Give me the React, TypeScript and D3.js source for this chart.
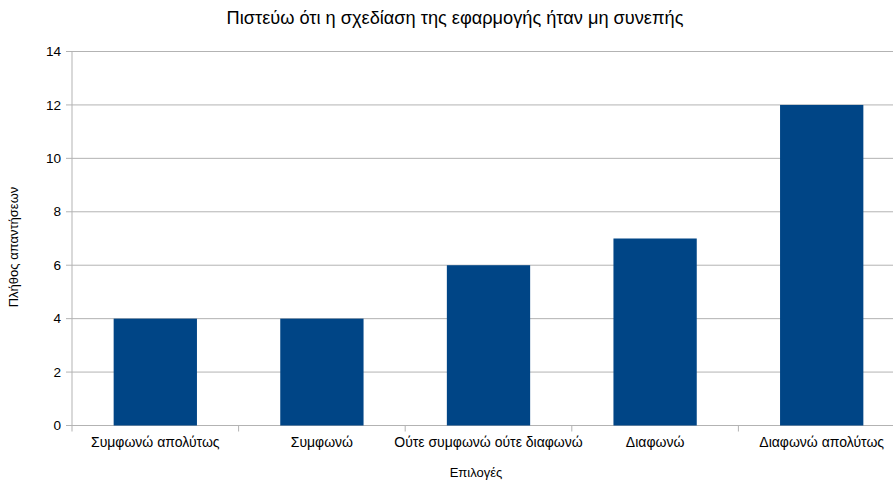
import React from "react";
import * as d3 from "d3";

const categories = [
  "Συμφωνώ απολύτως",
  "Συμφωνώ",
  "Ούτε συμφωνώ ούτε διαφωνώ",
  "Διαφωνώ",
  "Διαφωνώ απολύτως",
];
const counts = [4, 4, 6, 7, 12];
const yTicks = [0, 2, 4, 6, 8, 10, 12, 14];
const title = "Πιστεύω ότι η σχεδίαση της εφαρμογής ήταν μη συνεπής";
const xTitle = "Επιλογές";
const yTitle = "Πλήθος απαντήσεων";

const W = 893;
const H = 481;
const left = 72;
const right = 905;
const top = 51.5;
const bottom = 425.5;
const font = "'Liberation Sans', Arial, sans-serif";

export default function App() {
  const x = d3.scaleBand<string>().domain(categories).range([left, right]).paddingInner(0.5).paddingOuter(0.25);
  const y = d3.scaleLinear().domain([0, 14]).range([bottom, top]);
  const step = x.step();
  return (
    <div style={{ position: "fixed", left: 0, top: 0 }}>
      <svg width={W} height={H} style={{ display: "block", background: "#fff" }}>
        <text x={455} y={24} textAnchor="middle" fontFamily={font} fontSize={18.2} fill="#000">
          {title}
        </text>
        {yTicks.map((t) => (
          <g key={t}>
            <line x1={left - 6} x2={right} y1={y(t)} y2={y(t)} stroke="#b3b3b3" strokeWidth={1} />
            <text x={left - 11} y={y(t) + 4.7} textAnchor="end" fontFamily={font} fontSize={13.6} fill="#000">
              {t}
            </text>
          </g>
        ))}
        <line x1={left} x2={left} y1={top} y2={bottom + 6} stroke="#b3b3b3" />
        {categories.map((c, i) => (
          <line key={"t" + i} x1={left + step * (i + 1)} x2={left + step * (i + 1)} y1={bottom} y2={bottom + 6} stroke="#b3b3b3" />
        ))}
        {categories.map((c, i) => (
          <rect key={c} x={x(c)} y={y(counts[i])} width={x.bandwidth()} height={bottom - y(counts[i])} fill="#004586" />
        ))}
        {categories.map((c) => (
          <text key={"l" + c} x={(x(c) as number) + x.bandwidth() / 2} y={446.5} textAnchor="middle" fontFamily={font} fontSize={14} fill="#000">
            {c}
          </text>
        ))}
        <text x={476} y={477} textAnchor="middle" fontFamily={font} fontSize={13} fill="#000">
          {xTitle}
        </text>
        <text transform={`translate(18,247) rotate(-90)`} textAnchor="middle" fontFamily={font} fontSize={13} fill="#000">
          {yTitle}
        </text>
      </svg>
    </div>
  );
}
